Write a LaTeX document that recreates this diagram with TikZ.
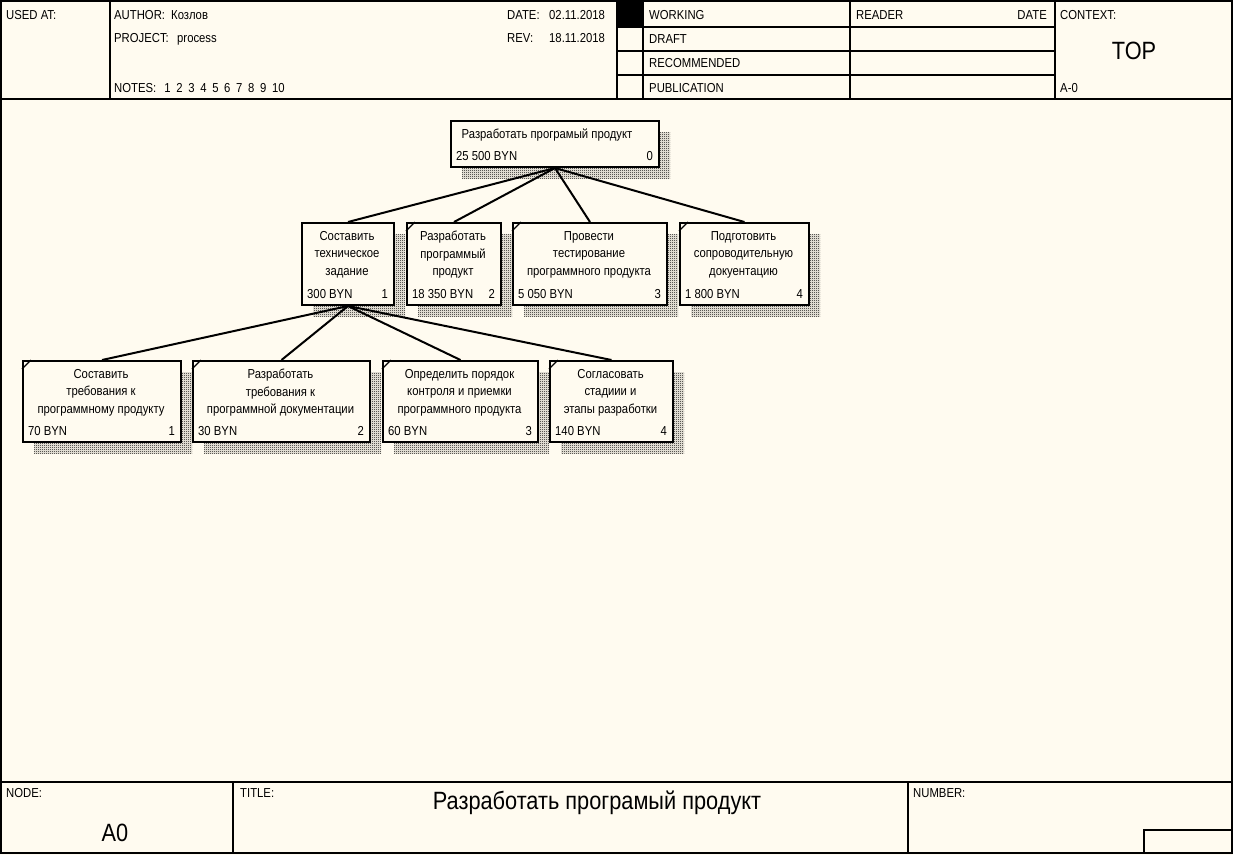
\documentclass[tikz,border=0pt]{standalone}
\usepackage{fontspec}
\setmainfont{Liberation Sans}[FakeStretch=0.87]
\usetikzlibrary{patterns}
\definecolor{paper}{RGB}{255,251,240}
\pgfdeclarepatternformonly{checker}{\pgfqpoint{0pt}{0pt}}{\pgfqpoint{2pt}{2pt}}{\pgfqpoint{2pt}{2pt}}{%
  \pgfpathrectangle{\pgfqpoint{0pt}{0pt}}{\pgfqpoint{1pt}{1pt}}%
  \pgfpathrectangle{\pgfqpoint{1pt}{1pt}}{\pgfqpoint{1pt}{1pt}}%
  \pgfusepath{fill}}
\tikzset{
  lbl/.style={font=\fontsize{13}{17.5}\selectfont, inner sep=0pt},
  big/.style={font=\fontsize{25}{30}\selectfont, inner sep=0pt},
  frame/.style={line width=1.2pt},
  act/.style={draw, line width=2pt, fill=paper, rectangle, anchor=north west, inner sep=0pt},
  shadowbox/.style={pattern=checker, pattern color=black},
  link/.style={line width=2pt},
  cornermark/.style={line width=1.3pt},
}
\newcommand{\ActBox}[9]{%
  \fill[shadowbox] (#2+12,#3+12) rectangle (#4+12,#5+12);
  \node[act, minimum width={(#4-#2)*1pt}, minimum height={(#5-#3)*1pt}] (#1) at (#2,#3) {};
  \node[lbl, anchor=north, align=center] (#1t) at ({(#2+#4)/2},#3+9) {#6};
  \node[lbl, anchor=base west] (#1c) at (#2+6,#5-5.5) {#7};
  \node[lbl, anchor=base east] (#1n) at (#4-5,#5-5.5) {#8};
  \ifnum#9=1 \draw[cornermark] ([yshift=-9pt]#1.north west) -- ([xshift=9pt]#1.north west);\fi
}
\begin{document}
\begin{tikzpicture}[x=1pt,y=-1pt]
\useasboundingbox (0,0) rectangle (1233,855);
\fill[paper] (0,0) rectangle (1233,855);
% frame
\draw[frame] (1,1) rectangle (1232,853);
\draw[frame] (1,99) -- (1232,99);
\draw[frame] (110,1) -- (110,99);
\draw[frame] (617,1) -- (617,99);
\draw[frame] (643,1) -- (643,99);
\draw[frame] (850,1) -- (850,99);
\draw[frame] (1055,1) -- (1055,99);
\draw[frame] (617,27) -- (1055,27);
\draw[frame] (617,51) -- (1055,51);
\draw[frame] (617,75) -- (1055,75);
\fill (617,1) rectangle (643,27);
\draw[frame] (1,782) -- (1232,782);
\draw[frame] (233,782) -- (233,853);
\draw[frame] (908,782) -- (908,853);
\draw[frame] (1144,853) -- (1144,830) -- (1232,830);
% header texts
\node[lbl, anchor=base west] (usedat) at (6,19) {USED AT:};
\node[lbl, anchor=base west] (author) at (114,19) {AUTHOR:};
\node[lbl, anchor=base west] (authorv) at (171,19) {Козлов};
\node[lbl, anchor=base west] (project) at (114,42) {PROJECT:};
\node[lbl, anchor=base west] (projectv) at (177,42) {process};
\node[lbl, anchor=base west] (notes) at (114,92) {NOTES:\hspace{8pt}1\hspace{5.7pt}2\hspace{5.7pt}3\hspace{5.7pt}4\hspace{5.7pt}5\hspace{5.7pt}6\hspace{5.7pt}7\hspace{5.7pt}8\hspace{5.7pt}9\hspace{5.7pt}10};
\node[lbl, anchor=base west] (date) at (507,19) {DATE:};
\node[lbl, anchor=base west] (datev) at (549,19) {02.11.2018};
\node[lbl, anchor=base west] (rev) at (507,42) {REV:};
\node[lbl, anchor=base west] (revv) at (549,42) {18.11.2018};
\node[lbl, anchor=base west] (working) at (649,19) {WORKING};
\node[lbl, anchor=base west] (draft) at (649,43) {DRAFT};
\node[lbl, anchor=base west] (recommended) at (649,67) {RECOMMENDED};
\node[lbl, anchor=base west] (publication) at (649,92) {PUBLICATION};
\node[lbl, anchor=base west] (reader) at (856,19) {READER};
\node[lbl, anchor=base east] (rdate) at (1047,19) {DATE};
\node[lbl, anchor=base west] (context) at (1060,19) {CONTEXT:};
\node[big, anchor=base] (topctx) at (1134,59) {TOP};
\node[lbl, anchor=base west] (actx) at (1060,92) {A-0};
% footer texts
\node[lbl, anchor=base west] (nodelbl) at (6,797) {NODE:};
\node[big, anchor=base] (nodev) at (115,841) {A0};
\node[lbl, anchor=base west] (titlelbl) at (240,797) {TITLE:};
\node[big, anchor=base] (titlev) at (597,809) {Разработать програмый продукт};
\node[lbl, anchor=base west] (numberlbl) at (913,797) {NUMBER:};
% activity boxes
\ActBox{a0}{450}{120}{658}{166}{\hspace{-14pt}Разработать програмый продукт}{25 500 BYN}{0}{0}
\ActBox{m1}{301}{222}{393}{304}{Составить\\техническое\\задание}{300 BYN}{1}{0}
\ActBox{m2}{406}{222}{500}{304}{Разработать\\программый\\продукт}{18 350 BYN}{2}{1}
\ActBox{m3}{512}{222}{666}{304}{Провести\\тестирование\\программного продукта}{5 050 BYN}{3}{1}
\ActBox{m4}{679}{222}{808}{304}{Подготовить\\сопроводительную\\докуентацию}{1 800 BYN}{4}{1}
\ActBox{b1}{22}{360}{180}{441}{Составить\\требования к\\программному продукту}{70 BYN}{1}{1}
\ActBox{b2}{192}{360}{369}{441}{Разработать\\требования к\\программной документации}{30 BYN}{2}{1}
\ActBox{b3}{382}{360}{537}{441}{Определить порядок\\контроля и приемки\\программного продукта}{60 BYN}{3}{1}
\ActBox{b4}{549}{360}{672}{441}{Согласовать\\стадиии и\\этапы разработки}{140 BYN}{4}{1}
% connectors
\foreach \t in {m1,m2,m3,m4} \draw[link] (a0.south) -- (\t.north);
\foreach \t in {b1,b2,b3,b4} \draw[link] (m1.south) -- (\t.north);
\end{tikzpicture}
\end{document}
